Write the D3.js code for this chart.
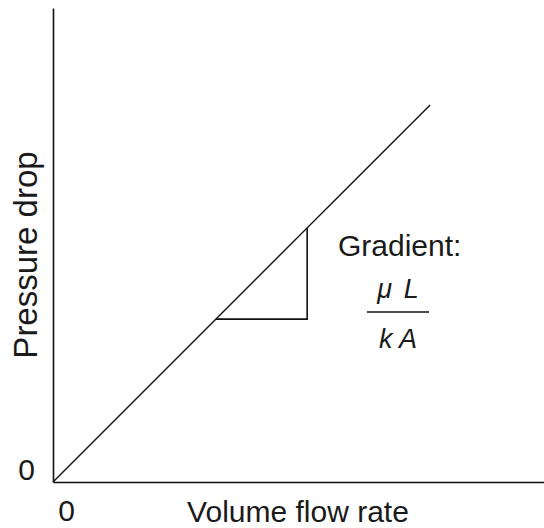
<!DOCTYPE html>
<html>
<head>
<meta charset="utf-8">
<script src="https://cdn.jsdelivr.net/npm/d3@7"></script>
<style>
  body { margin: 0; background: #fff; }
  text { font-family: "Liberation Sans", Arial, sans-serif; fill: #1a1a1a; }
</style>
</head>
<body>
<div id="chart"></div>
<script>
// data: straight line through origin, plus the gradient triangle
var flow = [0, 10];
var pressure = [0, 10];
var triFlow = [4.32, 6.74];
var xTicks = [0];
var yTicks = [0];
var xLabel = "Volume flow rate";
var yLabel = "Pressure drop";
var gradLabel = "Gradient:";
var numer = "\u03bc L";
var denom = "k A";

var W = 544, H = 528;
var svg = d3.select("#chart").append("svg")
    .attr("width", W)
    .attr("height", H);

var x = d3.scaleLinear().domain([0, 13.02]).range([53, 544]);
var y = d3.scaleLinear().domain([0, 12.57]).range([482, 8]);

// axes
var xAxis = svg.append("g")
    .attr("transform", "translate(0," + y(0) + ")")
    .call(d3.axisBottom(x).tickValues(xTicks).tickSize(0).tickFormat(d3.format("d")));
var yAxis = svg.append("g")
    .attr("transform", "translate(" + x(0) + ",0)")
    .call(d3.axisLeft(y).tickValues(yTicks).tickSize(0).tickFormat(d3.format("d")));

svg.selectAll(".domain")
    .attr("stroke", "#111")
    .attr("stroke-width", 1.6);

xAxis.selectAll(".tick text")
    .attr("font-family", "Liberation Sans, Arial, sans-serif")
    .attr("font-size", "30px")
    .attr("fill", "#1a1a1a")
    .attr("dx", 13)
    .attr("dy", 0)
    .attr("y", 39);
yAxis.selectAll(".tick text")
    .attr("font-family", "Liberation Sans, Arial, sans-serif")
    .attr("font-size", "30px")
    .attr("fill", "#1a1a1a")
    .attr("x", -18)
    .attr("dy", 0)
    .attr("y", -3);

// the line
var pts = flow.map(function(d, i) { return [d, pressure[i]]; });
var line = d3.line()
    .x(function(d) { return x(d[0]); })
    .y(function(d) { return y(d[1]); });
svg.append("path")
    .datum(pts)
    .attr("d", line)
    .attr("fill", "none")
    .attr("stroke", "#111")
    .attr("stroke-width", 1.4);

// gradient triangle (slope = pressure/flow)
var slope = pressure[1] / flow[1];
var tri = [
    [triFlow[0], triFlow[0] * slope],
    [triFlow[1], triFlow[0] * slope],
    [triFlow[1], triFlow[1] * slope]
];
svg.append("path")
    .datum(tri)
    .attr("d", line)
    .attr("fill", "none")
    .attr("stroke", "#111")
    .attr("stroke-width", 1.6);

// axis titles
svg.append("text")
    .attr("x", 298)
    .attr("y", 522)
    .attr("text-anchor", "middle")
    .style("font-size", "30px")
    .text(xLabel);

svg.append("text")
    .attr("transform", "translate(37,255) rotate(-90)")
    .attr("text-anchor", "middle")
    .style("font-size", "33px")
    .text(yLabel);

// annotation
svg.append("text")
    .attr("x", 338)
    .attr("y", 256)
    .style("font-size", "30px")
    .text(gradLabel);

svg.append("text")
    .attr("x", 398)
    .attr("y", 298)
    .attr("text-anchor", "middle")
    .style("font-size", "27px")
    .style("font-style", "italic")
    .style("word-spacing", "4px")
    .text(numer);

svg.append("line")
    .attr("x1", 367).attr("x2", 429)
    .attr("y1", 312).attr("y2", 312)
    .attr("stroke", "#111")
    .attr("stroke-width", 1.6);

svg.append("text")
    .attr("x", 398)
    .attr("y", 348)
    .attr("text-anchor", "middle")
    .style("font-size", "27px")
    .style("font-style", "italic")
    .text(denom);
</script>
</body>
</html>
